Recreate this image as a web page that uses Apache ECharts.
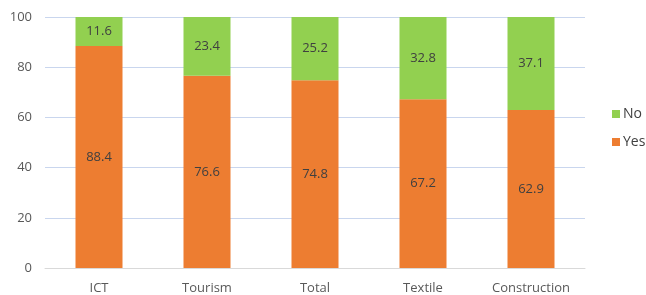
<!DOCTYPE html>
<html>
<head>
<meta charset="utf-8">
<script src="https://cdn.jsdelivr.net/npm/echarts@6/dist/echarts.min.js"></script>
<style>
  html, body { margin: 0; padding: 0; background: #fff; }
  #chart { width: 646px; height: 295px; }
</style>
</head>
<body>
<div id="chart"></div>
<script>
// sectors on the x axis
var categories = ["ICT", "Tourism", "Total", "Textile", "Construction"];
// share answering yes / no (%)
var yesValues = [88.4, 76.6, 74.8, 67.2, 62.9];
var noValues = [11.6, 23.4, 25.2, 32.8, 37.1];

var chart = echarts.init(document.getElementById("chart"));

var labelStyle = {
  show: true,
  position: "inside",
  color: "#404040",
  fontSize: 13,
  fontFamily: "Open Sans",
  formatter: function (p) { return p.value.toFixed(1); }
};

chart.setOption({
  animation: false,
  textStyle: { fontFamily: "Open Sans" },
  grid: { left: 45, right: 61, top: 17, bottom: 27 },
  legend: {
    orient: "vertical",
    left: 612,
    top: 107,
    padding: 0,
    itemWidth: 8,
    itemHeight: 8,
    itemGap: 14,
    icon: "rect",
    textStyle: { color: "#404040", fontSize: 14, padding: [0, 0, 0, -2] },
    data: ["No", "Yes"]
  },
  xAxis: {
    type: "category",
    data: categories,
    axisLine: { lineStyle: { color: "#d9d9d9", width: 1 } },
    axisTick: { show: false },
    axisLabel: { color: "#595959", fontSize: 13, margin: 14 }
  },
  yAxis: {
    type: "value",
    min: 0,
    max: 100,
    interval: 20,
    axisLine: { show: false },
    axisTick: { show: false },
    axisLabel: { color: "#595959", fontSize: 13, margin: 13 },
    splitLine: { lineStyle: { color: "#c9d6ee", width: 1 } }
  },
  series: [
    {
      name: "Yes",
      type: "bar",
      stack: "total",
      barWidth: 47,
      itemStyle: { color: "#ED7D31" },
      label: labelStyle,
      data: yesValues
    },
    {
      name: "No",
      type: "bar",
      stack: "total",
      barWidth: 47,
      itemStyle: { color: "#92D050" },
      label: labelStyle,
      data: noValues
    }
  ]
});
</script>
</body>
</html>
